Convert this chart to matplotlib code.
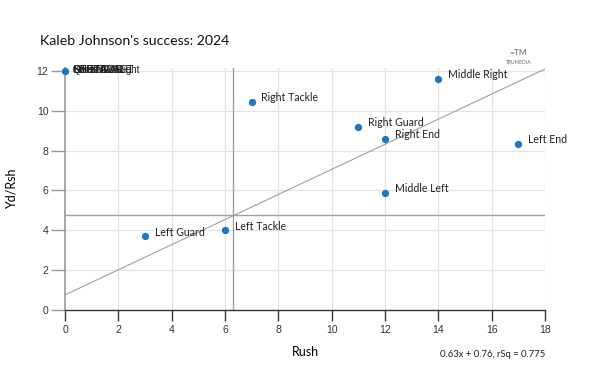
import matplotlib.pyplot as plt

# data
labels = ['Left Guard', 'Left Tackle', 'Right Tackle', 'Right Guard', 'Right End',
          'Middle Right', 'Left End', 'Middle Left']
rush = [3, 6, 7, 11, 12, 14, 17, 12]
ydrsh = [3.7, 4.0, 10.45, 9.2, 8.6, 11.6, 8.34, 5.88]

# overlapping labels all sitting at (0, 12)
stackLabels = ['QB SNEAK', 'OFF TACKLE', 'SHOTGUN', 'Scramble Right', 'Kneel', 'OTHER LEFT']
stackX = [0] * len(stackLabels)
stackY = [12] * len(stackLabels)

meanX = 6.3
meanY = 4.77
slope = 0.63
intercept = 0.76
rsq = 0.775

xticks = [0, 2, 4, 6, 8, 10, 12, 14, 16, 18]
yticks = [0, 2, 4, 6, 8, 10, 12]

fig = plt.figure(figsize=(6.06, 3.77), dpi=100)
ax = fig.add_axes([0.1073, 0.1777, 0.792, 0.642])
ax.set_xlim(0, 18)
ax.set_ylim(0, 12.15)

# grid
for t in xticks[1:]:
    ax.axvline(t, color='#e3e3e3', lw=0.9, zorder=0)
for t in yticks[1:]:
    ax.axhline(t, color='#e3e3e3', lw=0.9, zorder=0)

# mean lines and fit
ax.axvline(meanX, color='#a0a0a0', lw=1, zorder=1)
ax.axhline(meanY, color='#a0a0a0', lw=1, zorder=1)
ax.plot([0, 18], [intercept, intercept + slope * 18], color='#a0a0a0', lw=0.8, zorder=1)

# points
ax.scatter(rush, ydrsh, s=18, color='#1f77c0', zorder=3)
ax.scatter(stackX[:1], stackY[:1], s=18, color='#1f77c0', zorder=3, clip_on=False)
for lab, x, y in zip(labels, rush, ydrsh):
    ax.annotate(lab, (x, y), xytext=(7, 3), textcoords='offset points',
                fontsize=7.6, family='Lato', color='#222222', va='center', ha='left')
for lab, x, y in zip(stackLabels, stackX, stackY):
    ax.annotate(lab, (x, y), xytext=(6, 1), textcoords='offset points',
                fontsize=7, family='Liberation Sans', color='#222222', va='center', ha='left')

# axes styling
for s in ['top', 'right']:
    ax.spines[s].set_visible(False)
ax.spines['left'].set_color('#999999')
ax.spines['left'].set_linewidth(1.2)
ax.spines['bottom'].set_color('#333333')
ax.spines['bottom'].set_linewidth(1)
ax.set_xticks(xticks)
ax.set_yticks(yticks)
ax.tick_params(axis='x', length=8, width=1, color='#333333', labelsize=7.5, pad=3)
ax.tick_params(axis='y', length=10, width=1, color='#999999', labelsize=7.5, pad=2)
for lab in ax.get_xticklabels() + ax.get_yticklabels():
    lab.set_family('Liberation Sans')
    lab.set_color('#333333')

ax.set_xlabel('Rush', family='Lato', fontsize=9, labelpad=8)
ax.set_ylabel('Yd/Rsh', family='Lato', fontsize=9, labelpad=14)

fig.text(0.066, 0.88, "Kaleb Johnson's success: 2024", family='Lato', fontsize=10.2, color='#111111')
fig.text(0.899, 0.052, '0.63x + 0.76, rSq = {0}'.format(rsq), family='Lato', fontsize=6.8,
         ha='right', color='#222222')
fig.text(0.855, 0.83, 'TRUMEDIA', family='Lato', fontsize=3.5, ha='center', color='#666666')
fig.text(0.855, 0.855, '=TM', family='Lato', fontsize=6, ha='center', color='#666666')

fig.savefig('out.png', dpi=100)
